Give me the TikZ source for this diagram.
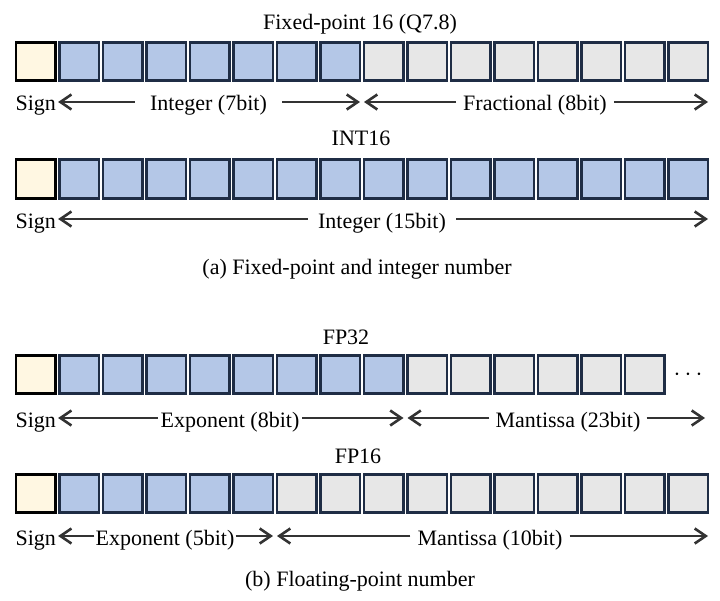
\documentclass[tikz,border=0pt]{standalone}
\usepackage{fontspec}
\setmainfont{Liberation Serif}
\usepackage{xcolor}
\usetikzlibrary{arrows.meta, positioning, calc}

\definecolor{bitblue}{HTML}{B4C7E7}
\definecolor{bitgray}{HTML}{E7E7E7}
\definecolor{bitsign}{HTML}{FFF7E2}
\definecolor{bitedge}{HTML}{1F2D45}
\definecolor{arrowgray}{HTML}{333333}

\tikzset{
  bitbox/.style={draw=bitedge, line width=2.8bp, minimum width=39.5bp,
    minimum height=38.5bp, inner sep=0pt, outer sep=0pt},
  signbox/.style={bitbox, draw=black, fill=bitsign},
  bitlabel/.style={text height=25bp, text depth=7bp, inner ysep=0pt, inner xsep=#1},
  bitlabel/.default=6bp,
  bittitle/.style={text height=15bp, text depth=5bp, inner sep=0pt},
  bitarrow/.style={arrowgray, line width=2.2bp,
    -{Straight Barb[length=11bp,width=15bp,line width=2.6bp]}},
}

\begin{document}
\begin{tikzpicture}[x=1bp, y=-1bp, font=\fontsize{22bp}{26bp}\selectfont, text=black]
\useasboundingbox (0,0) rectangle (720,601);

% bit boxes: sign, blue up to \nb, gray up to \nt
\foreach \r/\y/\nb/\nt in {fx/61.5/7/15, it/179/15/15, fa/374.5/8/14, fb/493.5/5/15} {
  \node[signbox] (\r0) at (35.75,\y) {};
  \foreach \i in {1,...,\nt} {
    \ifnum\i>\nb \def\bitfill{bitgray}\else\def\bitfill{bitblue}\fi
    \node[bitbox, fill=\bitfill] (\r\i) at ({35.75+43.5*\i},\y) {};
  }
}

% Fixed-point 16 (Q7.8)
\node[bittitle] (fx-title) at (360,25) {Fixed-point 16 (Q7.8)};
\node[bitlabel=2bp] (fx-sign) at (35.75,102) {Sign};
\node[bitlabel=15bp] (fx-int) at (208.5,102) {Integer (7bit)};
\node[bitlabel=7bp] (fx-frac) at (535,102) {Fractional (8bit)};
\draw[bitarrow] (fx-int) -- (fx-sign);
\draw[bitarrow] (fx-int) -- (fx7.east |- fx-int);
\draw[bitarrow] (fx-frac) -- (fx8.west |- fx-frac);
\draw[bitarrow] (fx-frac) -- (fx15.east |- fx-frac);

% INT16
\node[bittitle] (it-title) at (361,141) {INT16};
\node[bitlabel=2bp] (it-sign) at (35.75,219) {Sign};
\node[bitlabel=10bp] (it-int) at (382,219) {Integer (15bit)};
\draw[bitarrow] (it-int) -- (it-sign);
\draw[bitarrow] (it-int) -- (it15.east |- it-int);

\node[bittitle] (cap-a) at (357,269) {(a) Fixed-point and integer number};

% FP32
\node[bittitle] (fa-title) at (346,339) {FP32};
\node[font=\fontsize{30bp}{30bp}\selectfont] (fa-dots) at (688,374.5) {$\cdots$};
\node[bitlabel=2bp] (fa-sign) at (35.75,418) {Sign};
\node[bitlabel=2.5bp] (fa-exp) at (230,418) {Exponent (8bit)};
\node[bitlabel=6bp] (fa-man) at (568,418) {Mantissa (23bit)};
\coordinate (fa-end) at (705,418);
\draw[bitarrow] (fa-exp) -- (fa-sign);
\draw[bitarrow] (fa-exp) -- (fa8.east |- fa-exp);
\draw[bitarrow] (fa-man) -- (fa9.west |- fa-man);
\draw[bitarrow] (fa-man) -- (fa-end);

% FP16
\node[bittitle] (fb-title) at (358,458) {FP16};
\node[bitlabel=2bp] (fb-sign) at (35.75,536) {Sign};
\node[bitlabel=1bp] (fb-exp) at (165,536) {Exponent (5bit)};
\node[bitlabel=7bp] (fb-man) at (490,536) {Mantissa (10bit)};
\draw[bitarrow] (fb-exp) -- (fb-sign);
\draw[bitarrow] (fb-exp) -- (fb5.east |- fb-exp);
\draw[bitarrow] (fb-man) -- (fb6.west |- fb-man);
\draw[bitarrow] (fb-man) -- (fb15.east |- fb-man);

\node[bittitle] (cap-b) at (360,581) {(b) Floating-point number};
\end{tikzpicture}
\end{document}
